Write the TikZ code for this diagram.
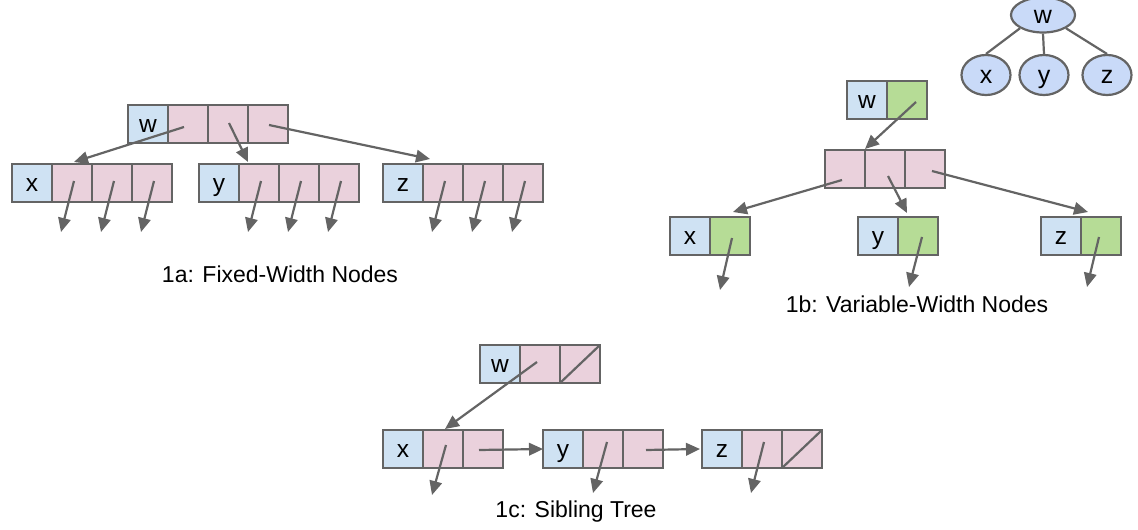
\documentclass[tikz,border=0pt]{standalone}
\usepackage{fontspec}
\setmainfont{Liberation Sans}
\usetikzlibrary{arrows.meta,calc,shapes.geometric}
\definecolor{lnc}{HTML}{646464}
\definecolor{cblue}{HTML}{CFE2F3}
\definecolor{cpink}{HTML}{EAD1DC}
\definecolor{cgreen}{HTML}{B6DC96}
\definecolor{cell}{HTML}{C9DAF8}
\tikzset{
  cellbox/.style={draw=lnc, line width=2.2pt, minimum width=40pt, minimum height=38pt, inner sep=0pt, outer sep=0pt, text height=16pt, text depth=0pt, font=\fontsize{24.5}{28}\selectfont},
  bluec/.style={cellbox, fill=cblue},
  pinkc/.style={cellbox, fill=cpink},
  greenc/.style={cellbox, fill=cgreen},
  ellnode/.style={ellipse, draw=lnc, line width=2.2pt, fill=cell, inner sep=0pt, text height=17pt, text depth=0pt, font=\fontsize{25}{29}\selectfont},
  arr/.style={draw=lnc, line width=2.2pt, -{Triangle[length=14pt,width=12.5pt]}},
  plain/.style={draw=lnc, line width=2.2pt},
  caption/.style={font=\fontsize{23}{27}\selectfont, anchor=base}
}
\begin{document}
\begin{tikzpicture}[x=1pt, y=-1pt]
\useasboundingbox (0,0) rectangle (1138,530);
% ---------- 1a ----------
\node[bluec] (aw) at (148,124) {w};
\node[pinkc] (aw1) at (188,124) {};
\node[pinkc] (aw2) at (228,124) {};
\node[pinkc] (aw3) at (268,124) {};
\node[bluec] (ax) at (32,183) {x};
\node[pinkc] (ax1) at (72,183) {};
\node[pinkc] (ax2) at (112,183) {};
\node[pinkc] (ax3) at (152,183) {};
\node[bluec] (ay) at (219,183) {y};
\node[pinkc] (ay1) at (259,183) {};
\node[pinkc] (ay2) at (299,183) {};
\node[pinkc] (ay3) at (339,183) {};
\node[bluec] (az) at (403,183) {z};
\node[pinkc] (az1) at (443,183) {};
\node[pinkc] (az2) at (483,183) {};
\node[pinkc] (az3) at (523,183) {};
\draw[arr] ($(aw1.center)+(-4,3)$) -- ($(ax1.north)+(2,-2)$);
\draw[arr] ($(aw2.center)+(1,-1)$) -- ($(ay1.north west)+(9,-2)$);
\draw[arr] ($(aw3.center)+(1,1)$) -- ($(az1.north west)+(7,-5)$);
\foreach \c in {ax1,ax2,ax3,ay1,ay2,ay3,az1,az2,az3}{
  \draw[arr] ($(\c.center)+(2,-2)$) -- ++(-13,51);
}
\node[caption] (capa) at (280,282) {1a: Fixed-Width Nodes};
% ---------- 1b ----------
\node[bluec] (bw) at (867,100) {w};
\node[greenc] (bw1) at (907,100) {};
\node[pinkc] (bp1) at (845,169) {};
\node[pinkc] (bp2) at (885,169) {};
\node[pinkc] (bp3) at (925,169) {};
\node[bluec] (bx) at (690,236) {x};
\node[greenc] (bx1) at (730,236) {};
\node[bluec] (by) at (878,236) {y};
\node[greenc] (by1) at (918,236) {};
\node[bluec] (bz) at (1061,236) {z};
\node[greenc] (bz1) at (1101,236) {};
\draw[arr] ($(bw1.center)+(9,2)$) -- ($(bp1.north east)+(0,-1)$);
\draw[arr] ($(bp1.center)+(-3,11)$) -- ($(bx1.north)+(3,-5)$);
\draw[arr] ($(bp2.center)+(3,7)$) -- ($(by1.north west)+(9,-4)$);
\draw[arr] ($(bp3.center)+(7,2)$) -- ($(bz1.north west)+(7,-5)$);
\draw[arr] ($(bx1.center)+(2,2)$) -- ++(-12,52);
\draw[arr] ($(by1.center)+(4,1)$) -- ++(-13,50);
\draw[arr] ($(bz1.center)+(-2,1)$) -- ++(-12,50);
\node[caption] (capb) at (917,312) {1b: Variable-Width Nodes};
% tree
\node[ellnode, minimum width=64pt, minimum height=35pt] (ew) at (1043,15) {w};
\node[ellnode, minimum width=49pt, minimum height=40pt] (ex) at (986,75) {x};
\node[ellnode, minimum width=49pt, minimum height=40pt] (ey) at (1044,75) {y};
\node[ellnode, minimum width=49pt, minimum height=40pt] (ez) at (1107,75) {z};
\draw[plain] (ew.210) -- (ex.north);
\draw[plain] (ew.south) -- (ey.north);
\draw[plain] (ew.330) -- (ez.north);
% ---------- 1c ----------
\node[bluec] (cw) at (500,364) {w};
\node[pinkc] (cw1) at (540,364) {};
\node[pinkc] (cw2) at (580,364) {};
\draw[plain] (cw2.south west) -- (cw2.north east);
\node[bluec] (cx) at (403,449) {x};
\node[pinkc] (cx1) at (443,449) {};
\node[pinkc] (cx2) at (483,449) {};
\node[bluec] (cy) at (563,449) {y};
\node[pinkc] (cy1) at (603,449) {};
\node[pinkc] (cy2) at (643,449) {};
\node[bluec] (cz) at (722,449) {z};
\node[pinkc] (cz1) at (762,449) {};
\node[pinkc] (cz2) at (802,449) {};
\draw[plain] (cz2.south west) -- (cz2.north east);
\draw[arr] ($(cw1.center)+(-3,-2)$) -- ($(cx1.north)+(2,-1)$);
\draw[arr] ($(cx2.center)+(-4,1)$) -- (cy.west);
\draw[arr] ($(cy2.center)+(3,1)$) -- ($(cz.west)+(-2,0)$);
\draw[arr] ($(cx1.center)+(3,-4)$) -- ++(-14,50);
\draw[arr] ($(cy1.center)+(4,-7)$) -- ++(-14,51);
\draw[arr] ($(cz1.center)+(2,-7)$) -- ++(-13,51);
\node[caption] (capc) at (576,517) {1c: Sibling Tree};
\end{tikzpicture}
\end{document}
